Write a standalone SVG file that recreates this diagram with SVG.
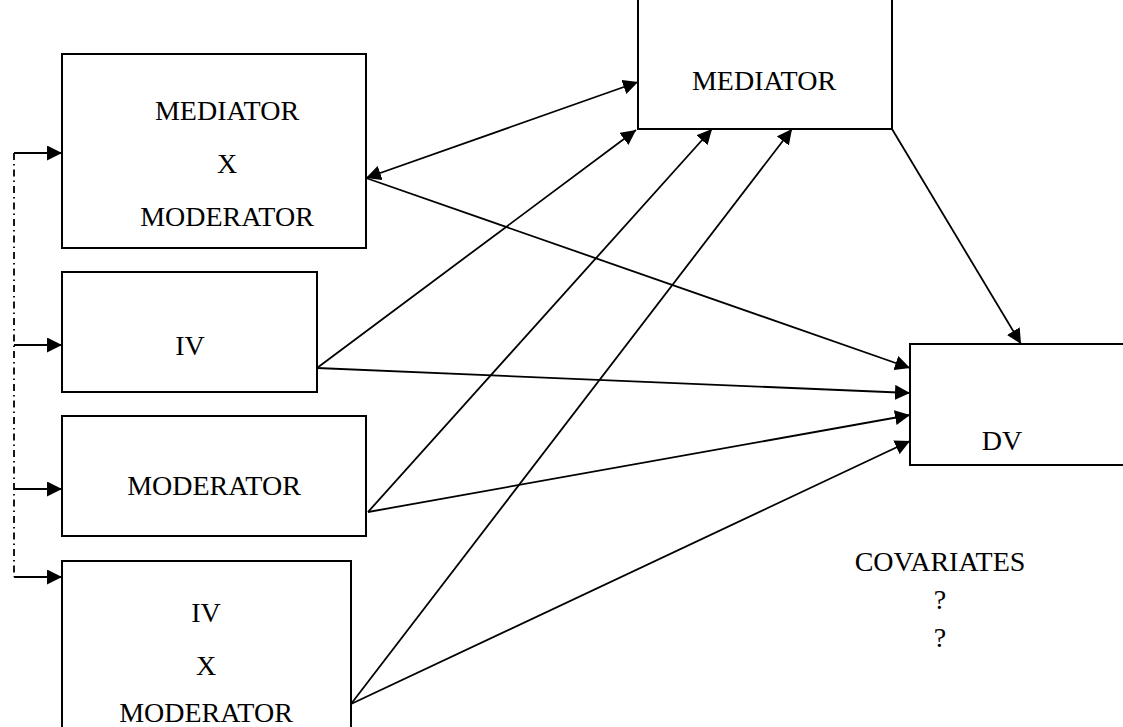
<svg xmlns="http://www.w3.org/2000/svg" width="1123" height="727" viewBox="0 0 1123 727">
<style>
.box{fill:#fff;stroke:#000;stroke-width:2}
.t{font-family:"Liberation Serif","Times New Roman",serif;font-size:28px;fill:#000;text-anchor:middle}
.c{stroke:#000;stroke-width:1.8;fill:none}
.d{stroke:#000;stroke-width:1.8;fill:none;stroke-dasharray:7,4,1.5,4}
</style>
<defs>
<marker id="ah" viewBox="0 0 10 10" refX="10" refY="5" markerWidth="15" markerHeight="15" markerUnits="userSpaceOnUse" orient="auto-start-reverse">
<path d="M0,0 L10,5 L0,10 Z" fill="#000"/>
</marker>
</defs>
<g id="node-medxmod"><rect class="box" x="62" y="54" width="304" height="194"/>
<text class="t" x="227" y="120">MEDIATOR</text><text class="t" x="227" y="173">X</text><text class="t" x="227" y="226">MODERATOR</text></g>
<g id="node-iv"><rect class="box" x="62" y="272" width="255" height="120"/>
<text class="t" x="190" y="355">IV</text></g>
<g id="node-moderator"><rect class="box" x="62" y="416" width="304" height="120"/>
<text class="t" x="214" y="495">MODERATOR</text></g>
<g id="node-ivxmod"><rect class="box" x="62" y="561" width="289" height="180"/>
<text class="t" x="206" y="622">IV</text><text class="t" x="206" y="675">X</text><text class="t" x="206" y="722">MODERATOR</text></g>
<g id="node-mediator"><rect class="box" x="638" y="-5" width="254" height="134"/>
<text class="t" x="764" y="90">MEDIATOR</text></g>
<g id="node-dv"><rect class="box" x="910" y="344" width="230" height="121"/>
<text class="t" x="1002" y="450">DV</text></g>
<g id="covariates"><text class="t" x="940" y="571">COVARIATES</text><text class="t" x="940" y="609">?</text><text class="t" x="940" y="647">?</text></g>
<g id="connectors">
<path class="d" d="M14,153 V577"/>
<path class="c" d="M14,153 H62" marker-end="url(#ah)"/>
<path class="c" d="M14,345 H62" marker-end="url(#ah)"/>
<path class="c" d="M14,489 H62" marker-end="url(#ah)"/>
<path class="c" d="M14,577 H62" marker-end="url(#ah)"/>
<path class="c" d="M366,178 L638,82" marker-start="url(#ah)" marker-end="url(#ah)"/>
<path class="c" d="M366,178 L910,368" marker-end="url(#ah)"/>
<path class="c" d="M317,368 L636,130" marker-end="url(#ah)"/>
<path class="c" d="M317,368 L910,393" marker-end="url(#ah)"/>
<path class="c" d="M368,512 L712,129" marker-end="url(#ah)"/>
<path class="c" d="M368,512 L910,415" marker-end="url(#ah)"/>
<path class="c" d="M351,704 L792,129" marker-end="url(#ah)"/>
<path class="c" d="M351,704 L910,441" marker-end="url(#ah)"/>
<path class="c" d="M892,129 L1021,344" marker-end="url(#ah)"/>
</g>
</svg>
